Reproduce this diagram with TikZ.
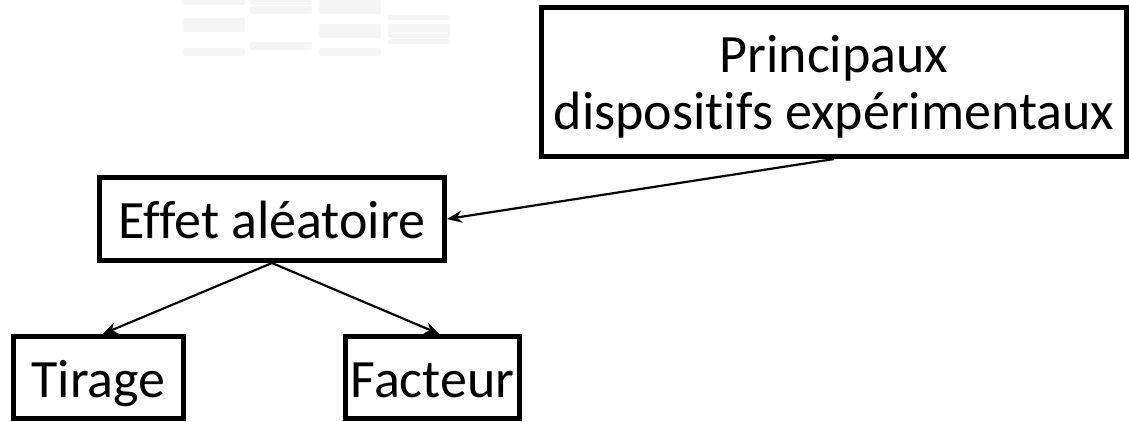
\documentclass[tikz,border=0pt]{standalone}
\usepackage{fontspec}
\setmainfont{Carlito}[Ligatures=NoCommon]
\usetikzlibrary{arrows.meta}
\begin{document}
\begin{tikzpicture}[x=1pt,y=-1pt,
  box/.style={draw=black, line width=5pt, inner sep=0pt, align=center,
    font=\fontsize{54}{57}\selectfont},
  oneline/.style={text height=45pt, text depth=6pt},
  link/.style={line width=2.2pt, -{Stealth[length=15pt,width=12pt]}},
  faint/.style={fill=black!4, draw=none, rounded corners=2pt}]
\useasboundingbox (0,0) rectangle (1129,421);
% faint background marks
\foreach \x/\a/\b in {183/0/1,183/6/10,183/16/18,250/0/1,250/2/4,250/14/16,
                      319/0/4,319/8/12,319/16/18,388/5/6,388/8/12,388/13/14}{
  \fill[faint] (\x,\a*3) rectangle ++(62,\b*3-\a*3+2);
}
% boxes
\node[box, text depth=-4pt, minimum width=585pt, minimum height=149pt] (main) at (834,82)
  {Principaux\\dispositifs expérimentaux};
\node[box, oneline, minimum width=345pt, minimum height=83pt] (effet) at (272,219)
  {Effet aléatoire};
\node[box, oneline, minimum width=170pt, minimum height=82pt] (tirage) at (98.5,377.5)
  {Tirage};
\node[box, oneline, minimum width=174pt, minimum height=82pt] (facteur) at (432.5,377.5)
  {Facteur};
% connectors
\draw[link] (main.south) -- (effet.east);
\draw[link] (effet.south) -- ([xshift=4pt]tirage.north);
\draw[link] (effet.south) -- ([xshift=7pt]facteur.north);
\end{tikzpicture}
\end{document}
